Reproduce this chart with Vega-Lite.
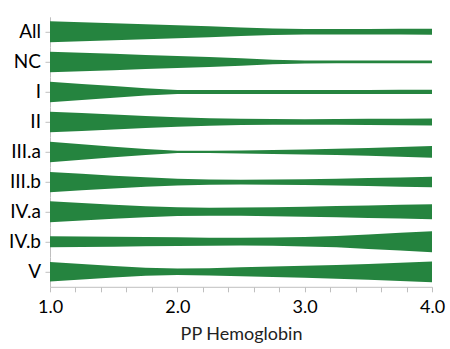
{
  "$schema": "https://vega.github.io/schema/vega-lite/v6.json",
  "padding": {"left": 9, "top": 16.8, "right": 5, "bottom": 5},
  "bounds": "flush",
  "data": {"values": [
    {"g":"All","x":1,"w":21},{"g":"All","x":1.25,"w":19},{"g":"All","x":1.5,"w":17},{"g":"All","x":1.75,"w":15},{"g":"All","x":2,"w":13},{"g":"All","x":2.25,"w":11},{"g":"All","x":2.5,"w":8.5},{"g":"All","x":2.75,"w":6.5},{"g":"All","x":3,"w":5.5},{"g":"All","x":3.25,"w":5.5},{"g":"All","x":3.5,"w":5.5},{"g":"All","x":3.75,"w":5.7},{"g":"All","x":4,"w":6},
    {"g":"NC","x":1,"w":20.5},{"g":"NC","x":1.25,"w":18.5},{"g":"NC","x":1.5,"w":16.5},{"g":"NC","x":1.75,"w":14},{"g":"NC","x":2,"w":12},{"g":"NC","x":2.25,"w":10},{"g":"NC","x":2.5,"w":7.5},{"g":"NC","x":2.75,"w":4.5},{"g":"NC","x":3,"w":3},{"g":"NC","x":3.25,"w":2.8},{"g":"NC","x":3.5,"w":2.7},{"g":"NC","x":3.75,"w":2.7},{"g":"NC","x":4,"w":2.7},
    {"g":"I","x":1,"w":20.5},{"g":"I","x":1.25,"w":16},{"g":"I","x":1.5,"w":11.7},{"g":"I","x":1.75,"w":7.3},{"g":"I","x":2,"w":4},{"g":"I","x":2.25,"w":4},{"g":"I","x":2.5,"w":4},{"g":"I","x":2.75,"w":4},{"g":"I","x":3,"w":4},{"g":"I","x":3.25,"w":4.1},{"g":"I","x":3.5,"w":4.1},{"g":"I","x":3.75,"w":4.2},{"g":"I","x":4,"w":4.3},
    {"g":"II","x":1,"w":20.5},{"g":"II","x":1.25,"w":18},{"g":"II","x":1.5,"w":15},{"g":"II","x":1.75,"w":12},{"g":"II","x":2,"w":9.5},{"g":"II","x":2.25,"w":7.5},{"g":"II","x":2.5,"w":6.3},{"g":"II","x":2.75,"w":5.8},{"g":"II","x":3,"w":5.5},{"g":"II","x":3.25,"w":5.8},{"g":"II","x":3.5,"w":6.2},{"g":"II","x":3.75,"w":6.6},{"g":"II","x":4,"w":7},
    {"g":"III.a","x":1,"w":20.5},{"g":"III.a","x":1.25,"w":15.5},{"g":"III.a","x":1.5,"w":10.5},{"g":"III.a","x":1.75,"w":6},{"g":"III.a","x":2,"w":2.3},{"g":"III.a","x":2.25,"w":2.2},{"g":"III.a","x":2.5,"w":3},{"g":"III.a","x":2.75,"w":4},{"g":"III.a","x":3,"w":5},{"g":"III.a","x":3.25,"w":6.3},{"g":"III.a","x":3.5,"w":7.8},{"g":"III.a","x":3.75,"w":9.7},{"g":"III.a","x":4,"w":11.7},
    {"g":"III.b","x":1,"w":20.3},{"g":"III.b","x":1.25,"w":16.5},{"g":"III.b","x":1.5,"w":12.8},{"g":"III.b","x":1.75,"w":9.5},{"g":"III.b","x":2,"w":6.8},{"g":"III.b","x":2.25,"w":5.3},{"g":"III.b","x":2.5,"w":4.8},{"g":"III.b","x":2.75,"w":5.2},{"g":"III.b","x":3,"w":5.8},{"g":"III.b","x":3.25,"w":6.7},{"g":"III.b","x":3.5,"w":7.9},{"g":"III.b","x":3.75,"w":9.2},{"g":"III.b","x":4,"w":10.5},
    {"g":"IV.a","x":1,"w":21},{"g":"IV.a","x":1.25,"w":17.5},{"g":"IV.a","x":1.5,"w":14},{"g":"IV.a","x":1.75,"w":11},{"g":"IV.a","x":2,"w":8.7},{"g":"IV.a","x":2.25,"w":8},{"g":"IV.a","x":2.5,"w":8.3},{"g":"IV.a","x":2.75,"w":9},{"g":"IV.a","x":3,"w":10},{"g":"IV.a","x":3.25,"w":11.2},{"g":"IV.a","x":3.5,"w":12.5},{"g":"IV.a","x":3.75,"w":13.8},{"g":"IV.a","x":4,"w":15},
    {"g":"IV.b","x":1,"w":11},{"g":"IV.b","x":1.25,"w":10.5},{"g":"IV.b","x":1.5,"w":10},{"g":"IV.b","x":1.75,"w":9.3},{"g":"IV.b","x":2,"w":8.7},{"g":"IV.b","x":2.25,"w":8.1},{"g":"IV.b","x":2.5,"w":7.7},{"g":"IV.b","x":2.75,"w":8.3},{"g":"IV.b","x":3,"w":9.5},{"g":"IV.b","x":3.25,"w":11.3},{"g":"IV.b","x":3.5,"w":14.5},{"g":"IV.b","x":3.75,"w":17.7},{"g":"IV.b","x":4,"w":21},
    {"g":"V","x":1,"w":19.5},{"g":"V","x":1.25,"w":15.5},{"g":"V","x":1.5,"w":11.5},{"g":"V","x":1.75,"w":8},{"g":"V","x":2,"w":6.5},{"g":"V","x":2.25,"w":7.3},{"g":"V","x":2.5,"w":9},{"g":"V","x":2.75,"w":10.5},{"g":"V","x":3,"w":12},{"g":"V","x":3.25,"w":13.6},{"g":"V","x":3.5,"w":15.8},{"g":"V","x":3.75,"w":18.2},{"g":"V","x":4,"w":20.7}
  ]},
  "facet": {
    "row": {
      "field": "g", "type": "nominal",
      "sort": ["All","NC","I","II","III.a","III.b","IV.a","IV.b","V"],
      "header": {"title": null, "labels": false}
    }
  },
  "spacing": 0,
  "spec": {
    "width": 382,
    "height": 29.8,
    "layer": [
      {
        "mark": {"type": "area", "color": "#25843f", "interpolate": "linear"},
        "encoding": {
          "x": {"field": "x", "type": "quantitative",
            "scale": {"domain": [1, 4], "nice": false, "zero": false},
            "axis": {"title": "PP Hemoglobin",
              "values": [1,1.2,1.4,1.6,1.8,2,2.2,2.4,2.6,2.8,3,3.2,3.4,3.6,3.8,4],
              "labelExpr": "datum.value % 1 === 0 ? format(datum.value, '.1f') : ''",
              "labelOverlap": false,
              "tickSize": 5, "tickColor": "#bfbfbf", "domainColor": "#bfbfbf", "grid": false,
              "labelFont": "Lato", "labelFontSize": 18, "labelColor": "#000000", "labelPadding": 7, "labelFlush": false,
              "titleFont": "Lato", "titleFontSize": 18, "titleFontWeight": "normal", "titleColor": "#222222", "titlePadding": 9}},
          "y": {"field": "w", "type": "quantitative", "stack": "center",
            "scale": {"domain": [-4.4, 25.4], "nice": false, "zero": false},
            "axis": {"title": null, "labels": false, "values": [10.5], "tickSize": 5, "tickColor": "#bfbfbf", "domainColor": "#bfbfbf", "grid": false}}
        }
      },
      {
        "transform": [{"aggregate": [{"op": "max", "field": "w", "as": "m"}], "groupby": ["g"]}],
        "mark": {"type": "text", "align": "right", "baseline": "middle", "dx": -9, "font": "Lato", "fontSize": 19, "color": "#000000"},
        "encoding": {
          "x": {"datum": 1, "type": "quantitative",
            "axis": {"title": "PP Hemoglobin",
              "values": [1,1.2,1.4,1.6,1.8,2,2.2,2.4,2.6,2.8,3,3.2,3.4,3.6,3.8,4],
              "labelExpr": "datum.value % 1 === 0 ? format(datum.value, '.1f') : ''",
              "labelOverlap": false,
              "tickSize": 5, "tickColor": "#bfbfbf", "domainColor": "#bfbfbf", "grid": false,
              "labelFont": "Lato", "labelFontSize": 18, "labelColor": "#000000", "labelPadding": 7, "labelFlush": false,
              "titleFont": "Lato", "titleFontSize": 18, "titleFontWeight": "normal", "titleColor": "#222222", "titlePadding": 9}},
          "y": {"datum": 10.5, "type": "quantitative"},
          "text": {"field": "g"}
        }
      }
    ]
  },
  "config": {"view": {"stroke": null}}
}
